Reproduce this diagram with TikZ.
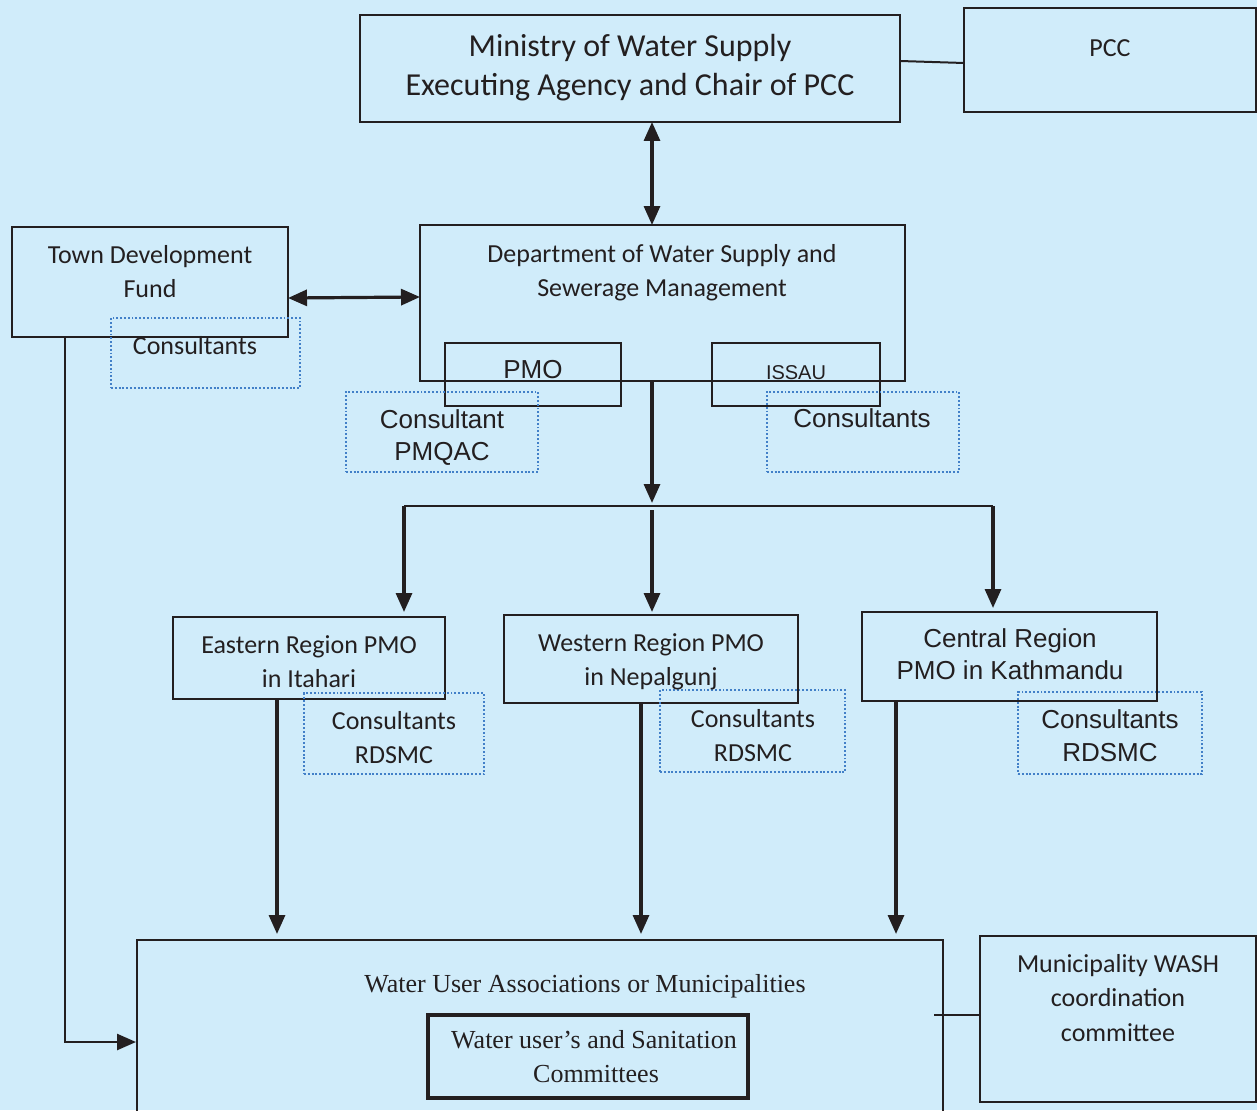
\documentclass[tikz,border=0pt]{standalone}
\usepackage{fontspec}
\setmainfont{Carlito}
\newfontfamily\arialf{Liberation Sans}
\newfontfamily\serf{Liberation Serif}
\usetikzlibrary{arrows.meta}
\definecolor{bg}{RGB}{208,236,250}
\definecolor{ink}{RGB}{35,31,32}
\definecolor{dotblue}{RGB}{66,128,200}
\newcommand\bx[6]{\node[#6, minimum width={(#4)-(#2)}, minimum height={(#5)-(#3)}] (#1) at ({((#2)+(#4))/2},{((#3)+(#5))/2}) {};}
\begin{document}
\begin{tikzpicture}[x=1pt,y=-1pt,
  box/.style={draw=ink, line width=2.4pt, inner sep=0pt, outer sep=0pt},
  thickbox/.style={draw=ink, line width=3.4pt, inner sep=0pt, outer sep=0pt},
  dotbox/.style={draw=dotblue, line width=1.9pt, dash pattern=on 1.9pt off 1.9pt, inner sep=0pt, outer sep=0pt},
  tc/.style={anchor=base, inner sep=0pt, text=ink, font=\fontsize{26}{31}\selectfont},
  tbig/.style={anchor=base, inner sep=0pt, text=ink, font=\fontsize{32}{38}\selectfont},
  ta/.style={anchor=base, inner sep=0pt, text=ink, font=\arialf\fontsize{26}{31}\selectfont},
  tas/.style={anchor=base, inner sep=0pt, text=ink, font=\arialf\fontsize{20}{24}\selectfont},
  ts/.style={anchor=base, inner sep=0pt, text=ink, font=\serf\fontsize{26}{31}\selectfont},
  ln/.style={draw=ink, line width=2pt},
  arr/.style={draw=ink, line width=3.2pt, -{Triangle[width=16pt,length=19pt]}},
  darr/.style={draw=ink, line width=3.2pt, {Triangle[width=16pt,length=19pt]}-{Triangle[width=16pt,length=19pt]}}
]
\fill[bg] (0,0) rectangle (1257,1110);
\useasboundingbox (0,0) rectangle (1257,1110);
\clip (0,0) rectangle (1257,1110);

% boxes
\bx{min}{360}{15}{900}{122}{box}
\bx{pcc}{964}{8}{1256}{112}{box}
\bx{tdf}{12}{227}{288}{337}{box}
\bx{dw}{420}{225}{905}{381}{box}
\bx{tdfc}{111}{318}{300}{388}{dotbox}
\bx{pmo}{445}{343}{621}{406}{box}
\bx{issau}{712}{343}{880}{406}{box}
\bx{pmqac}{346}{392}{538}{472}{dotbox}
\bx{issauc}{767}{392}{959}{472}{dotbox}
\bx{east}{173}{617}{445}{699}{box}
\bx{eastc}{304}{693}{484}{774}{dotbox}
\bx{west}{504}{615}{798}{703}{box}
\bx{westc}{660}{690}{845}{772}{dotbox}
\bx{cen}{862}{612}{1157}{701}{box}
\bx{cenc}{1018}{692}{1202}{774}{dotbox}
\bx{wua}{137}{940}{943}{1125}{box}
\bx{wsc}{428}{1015}{748}{1098}{thickbox}
\bx{wash}{980}{936}{1256}{1102}{box}

% texts
\node[tbig] (tmin1) at (630,57) {Ministry of Water Supply};
\node[tbig] (tmin2) at (630,96) {Executing Agency and Chair of PCC};
\node[tc] (tpcc) at (1110,57) {PCC};
\node[tc] (ttdf1) at (150,263) {Town Development};
\node[tc] (ttdf2) at (150,297) {Fund};
\node[tc] (tdw1) at (662,262) {Department of Water Supply and};
\node[tc] (tdw2) at (662,296) {Sewerage Management};
\node[tc] (ttdfc) at (195,354) {Consultants};
\node[ta] (tpmo) at (533,378) {PMO};
\node[tas] (tissau) at (796,379) {ISSAU};
\node[ta] (tpmq1) at (442,428) {Consultant};
\node[ta] (tpmq2) at (442,460) {PMQAC};
\node[ta] (tissc) at (862,427) {Consultants};
\node[tc] (teast1) at (309,653) {Eastern Region PMO};
\node[tc] (teast2) at (309,687) {in Itahari};
\node[tc] (teastc1) at (394,729) {Consultants};
\node[tc] (teastc2) at (394,763) {RDSMC};
\node[tc] (twest1) at (651,651) {Western Region PMO};
\node[tc] (twest2) at (651,685) {in Nepalgunj};
\node[tc] (twestc1) at (753,727) {Consultants};
\node[tc] (twestc2) at (753,761) {RDSMC};
\node[ta] (tcen1) at (1010,647) {Central Region};
\node[ta] (tcen2) at (1010,679) {PMO in Kathmandu};
\node[ta] (tcenc1) at (1110,728) {Consultants};
\node[ta] (tcenc2) at (1110,761) {RDSMC};
\node[ts] (twua) at (585,992) {Water User Associations or Municipalities};
\node[ts] (twsc1) at (594,1048) {Water user’s and Sanitation};
\node[ts] (twsc2) at (596,1082) {Committees};
\node[tc] (twash1) at (1118,972) {Municipality WASH};
\node[tc] (twash2) at (1118,1006) {coordination};
\node[tc] (twash3) at (1118,1041) {committee};

% connectors
\draw[ln] ([yshift=7.5pt]min.east) -- ([yshift=-3pt]pcc.west);
\draw[darr] ([xshift=22pt]min.south) -- ([xshift=-10.5pt]dw.north);
\draw[darr] ([yshift=-16pt]tdf.east) -- ([yshift=6pt]dw.west);

\coordinate (bus) at (652,506);
\coordinate (busL) at (404,506);
\coordinate (busR) at (993,506);
\draw[arr] ([xshift=-10.5pt]dw.south) -- ([yshift=3pt]bus);
\draw[ln, line width=2.6pt] (busL) -- (busR);
\draw[arr, shorten >=5pt] (busL) -- (busL |- east.north);
\draw[arr, shorten >=3pt] ([yshift=-4pt]bus) -- (bus |- west.north);
\draw[arr, shorten >=4pt] (busR) -- (busR |- cen.north);

\draw[arr, shorten >=6pt] ([xshift=-32pt]east.south) -- ([xshift=-32pt]east.south |- wua.north);
\draw[arr, shorten >=6pt] ([xshift=-10pt]west.south) -- ([xshift=-10pt]west.south |- wua.north);
\draw[arr, shorten >=6pt] ([xshift=-113.5pt]cen.south) -- ([xshift=-113.5pt]cen.south |- wua.north);

\draw[arr, line width=2.6pt, shorten >=1pt] ([xshift=-85pt]tdf.south) |- ([yshift=-9.5pt]wua.west);
\draw[ln] ([xshift=-9pt,yshift=17.5pt]wua.east) -- ([yshift=4pt]wash.west);
\end{tikzpicture}
\end{document}
